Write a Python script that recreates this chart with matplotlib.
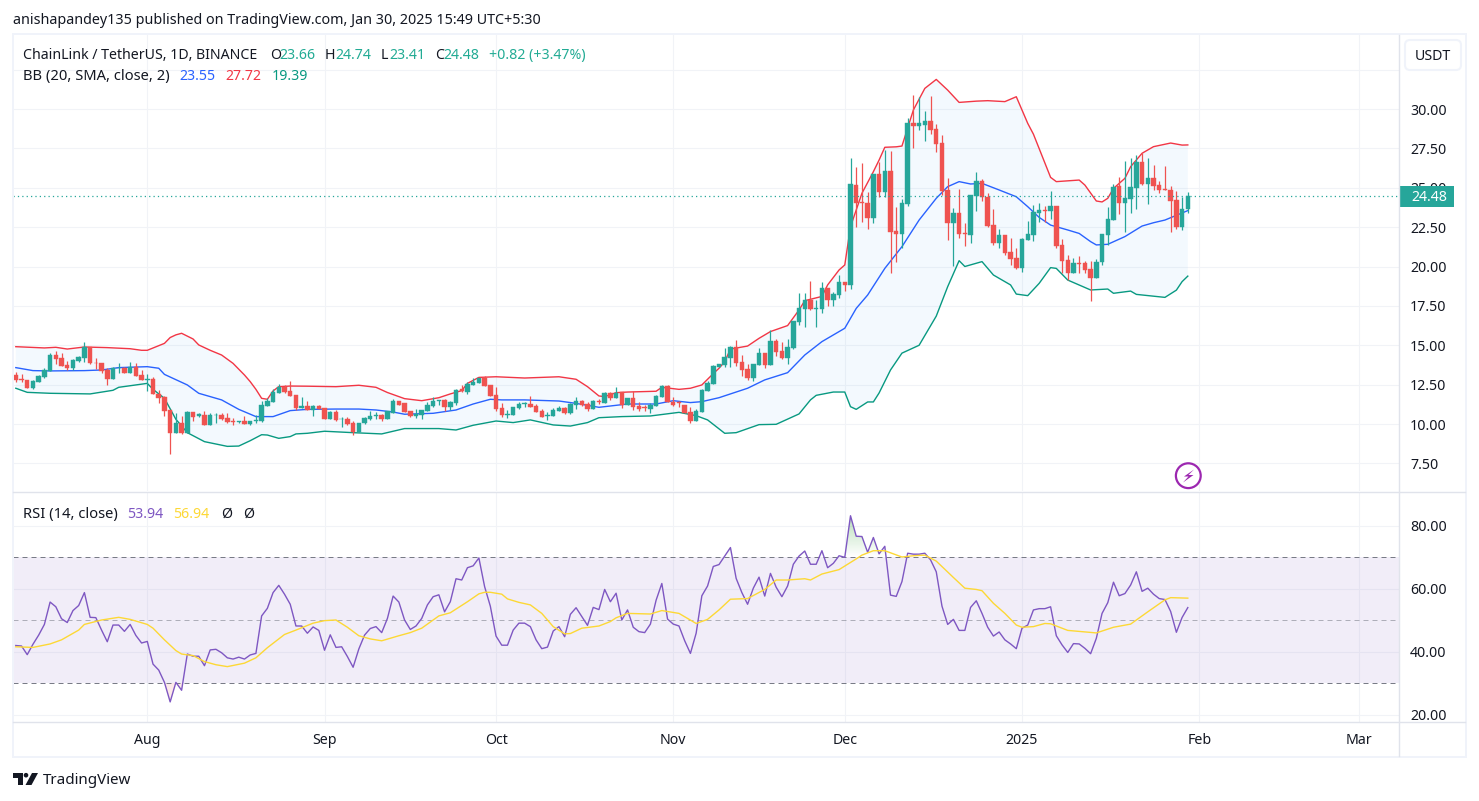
import numpy as np
import matplotlib
matplotlib.use('Agg')
import matplotlib.pyplot as plt
from matplotlib.colors import LinearSegmentedColormap
from matplotlib.patches import Rectangle, FancyBboxPatch, Circle, Polygon

plt.rcParams['font.family'] = ['Noto Sans', 'DejaVu Sans']

# candles, one per day from 23 days before Aug 1 up to Jan 30
opens = [13.11,12.84,12.80,12.31,12.69,13.01,13.39,14.38,14.17,13.75,
         13.56,14.02,14.19,14.87,13.90,13.90,13.43,12.86,13.54,13.58,
         13.24,13.60,13.11,12.80,12.84,11.89,11.72,10.89,9.45,10.04,
         9.45,10.74,10.53,10.55,9.96,10.55,10.55,10.38,10.19,10.13,
         10.19,10.00,10.21,10.19,11.14,11.40,11.99,12.37,12.10,11.82,
         11.04,11.14,10.89,11.14,10.99,10.32,10.78,10.30,10.32,10.04,
         9.49,10.04,10.34,10.51,10.57,10.32,10.72,11.46,11.31,10.81,
         10.53,10.57,10.83,11.17,11.46,11.50,11.08,11.31,12.20,12.05,
         12.50,12.63,12.94,12.48,11.84,11.00,10.57,10.59,11.00,11.27,
         11.27,11.14,10.83,10.53,10.53,10.85,11.02,10.70,11.23,11.46,
         11.29,10.95,11.46,11.31,11.97,11.63,12.01,11.21,11.63,11.17,
         11.06,10.95,11.17,11.72,12.41,11.42,11.38,11.21,10.76,10.19,
         10.78,12.12,12.56,13.64,13.77,14.19,14.87,13.94,13.50,12.94,
         13.77,14.51,13.75,15.27,14.66,14.21,14.81,16.50,17.30,17.87,
         17.32,17.30,18.64,17.87,18.21,19.02,18.82,25.17,24.09,24.01,
         23.08,25.87,24.73,26.06,22.23,22.09,23.97,29.09,28.94,28.98,
         29.24,28.71,27.82,24.84,22.78,23.38,22.13,22.02,24.50,25.43,
         24.41,22.63,21.49,22.00,20.92,20.52,19.88,21.68,22.00,23.42,
         23.59,23.53,23.84,21.37,20.41,19.61,20.22,20.22,19.82,19.29,
         20.27,22.00,22.95,25.11,24.05,24.31,25.00,26.64,25.24,25.62,
         25.17,24.92,24.86,24.22,22.50,23.66]
highs = [13.28,13.18,12.80,12.80,13.09,13.54,14.49,14.66,14.49,14.02,
         14.13,14.32,15.19,14.87,14.17,13.90,13.54,13.60,13.85,13.60,
         13.92,13.85,13.43,13.18,12.96,12.16,11.78,10.89,10.68,10.51,
         10.81,10.74,10.72,10.83,10.72,10.68,10.68,10.68,10.36,10.21,
         10.51,10.19,10.57,11.48,11.63,12.20,12.52,12.48,12.73,11.82,
         11.74,11.46,11.19,11.19,10.99,10.83,10.89,10.47,10.42,10.19,
         10.09,10.42,10.83,10.78,10.62,10.81,11.61,11.46,11.31,10.81,
         10.93,10.87,11.38,11.69,11.50,11.57,11.48,12.20,12.48,12.69,
         12.90,12.94,13.05,12.48,12.37,11.36,10.89,11.08,11.42,11.42,
         11.78,11.27,10.93,10.74,11.00,11.14,11.10,11.36,11.69,11.53,
         11.42,11.53,11.61,12.03,12.03,12.37,12.01,11.63,12.08,11.42,
         11.21,11.31,11.84,12.50,12.50,11.69,11.48,11.21,11.10,10.93,
         12.20,12.75,13.73,13.81,14.83,14.95,15.34,14.38,13.81,13.81,
         14.81,14.51,15.97,15.40,15.23,15.38,16.54,18.34,18.34,19.08,
         17.87,19.00,18.64,18.40,19.46,19.02,26.87,26.30,26.55,24.75,
         25.87,26.66,27.40,27.33,23.76,24.27,29.41,30.89,30.74,29.85,
         30.82,29.05,28.35,25.60,23.69,24.90,22.74,24.54,26.00,25.53,
         24.65,23.63,22.36,22.00,21.83,21.20,21.83,22.89,23.90,24.05,
         23.84,24.79,23.84,21.75,20.71,20.52,20.67,20.37,20.37,20.46,
         22.06,23.76,25.22,25.70,26.68,26.87,27.08,27.18,26.87,26.45,
         25.45,26.38,25.11,24.82,24.39,24.74]
lows = [12.69,12.67,12.31,12.25,12.67,12.94,13.39,13.81,13.71,13.43,
        13.43,13.96,13.94,13.83,13.47,13.26,12.48,12.86,13.26,13.22,
        13.24,13.07,12.80,12.12,11.89,11.31,10.51,8.10,9.41,9.37,
        9.41,10.21,10.42,9.96,9.96,10.09,10.26,10.04,9.94,10.09,
        9.98,9.94,10.09,10.13,11.14,11.40,11.95,11.95,11.78,10.89,
        11.00,10.89,10.53,10.93,10.32,10.30,10.21,9.83,9.94,9.32,
        9.49,10.00,10.26,10.32,10.21,10.32,10.72,11.21,10.78,10.47,
        10.40,10.34,10.83,11.10,11.21,10.83,10.89,11.21,12.05,11.89,
        12.46,12.58,12.44,11.80,10.85,10.47,10.36,10.59,10.95,11.10,
        11.08,10.74,10.42,10.26,10.49,10.81,10.66,10.66,10.98,11.17,
        10.81,10.95,11.27,11.31,11.53,11.63,11.04,11.21,10.89,10.85,
        10.85,10.68,11.17,11.72,11.38,11.14,11.10,10.68,10.09,10.19,
        10.78,12.08,12.56,13.59,13.64,13.64,13.68,13.05,12.80,12.73,
        13.77,13.58,13.75,14.32,14.13,13.81,14.74,16.29,16.14,17.24,
        16.18,17.03,17.52,17.50,17.98,18.47,18.57,22.53,22.85,22.40,
        22.78,24.43,24.43,19.57,20.31,21.16,23.84,27.55,28.67,27.97,
        28.41,27.29,24.54,21.68,20.05,21.79,21.30,21.51,23.52,24.18,
        22.53,21.37,21.15,20.73,20.07,19.84,19.67,21.68,21.64,22.83,
        22.85,23.02,21.20,19.57,19.14,19.57,19.57,19.61,17.81,19.29,
        20.10,21.37,22.95,23.33,22.20,23.42,23.63,25.17,23.97,24.86,
        24.69,24.88,22.21,22.40,22.32,23.41]
closes = [12.80,12.80,12.31,12.71,13.05,13.43,14.38,14.13,13.71,13.56,
          14.07,14.28,14.87,13.90,13.85,13.39,12.86,13.56,13.58,13.24,
          13.60,13.07,12.80,12.84,11.89,11.65,10.83,9.45,10.04,9.45,
          10.76,10.45,10.62,9.96,10.57,10.59,10.30,10.15,10.15,10.17,
          10.00,10.19,10.26,11.21,11.46,12.03,12.37,12.03,11.78,11.04,
          11.12,10.89,11.14,10.95,10.32,10.78,10.26,10.34,10.00,9.47,
          10.04,10.38,10.51,10.55,10.32,10.81,11.46,11.21,10.78,10.51,
          10.64,10.87,11.21,11.46,11.50,11.10,11.38,12.16,12.12,12.54,
          12.67,12.94,12.44,11.80,10.95,10.57,10.64,11.08,11.29,11.33,
          11.08,10.78,10.47,10.59,10.89,11.02,10.70,11.27,11.46,11.23,
          10.95,11.46,11.42,11.97,11.67,11.99,11.21,11.63,11.10,10.93,
          11.00,11.21,11.78,12.41,11.38,11.21,11.31,10.72,10.19,10.83,
          12.16,12.60,13.68,13.81,14.23,14.91,13.90,13.43,12.92,13.81,
          14.51,13.75,15.27,14.59,14.21,14.89,16.54,17.37,17.87,17.32,
          17.37,18.64,17.87,18.28,19.02,18.82,25.24,24.05,24.05,23.08,
          25.87,24.73,26.06,22.21,22.09,24.01,29.09,28.94,29.09,29.24,
          28.67,27.78,24.79,22.78,23.38,22.09,22.09,24.54,25.43,24.39,
          22.59,21.49,22.00,20.88,20.45,19.88,21.75,22.06,23.46,23.59,
          23.53,23.84,21.32,20.35,19.61,20.22,20.18,19.78,19.29,20.29,
          22.06,23.00,25.05,24.05,24.35,25.05,26.64,25.24,25.62,25.13,
          24.86,24.88,24.16,22.51,23.65,24.48]
first_day = -23

upper_days = [-23,-18,-16,-14,-11,-7,-3,-1,0,3,4,5,6,8,9,11,13,15,17,18,19,20,21,22,23,25,28,33,37,40,
              42,45,48,51,53,55,56,58,61,66,72,75,77,79,80,82,84,89,90,93,95,97,99,100,101,102,105,107,109,112,
              114,115,118,119,121,122,123,125,127,128,129,131,132,134,136,138,140,142,145,147,150,152,154,155,158,159,163,164,166,167,
              168,169,171,172,174,176,179,181,182]
upper = [14.91,14.83,14.87,14.76,14.89,14.85,14.78,14.68,14.68,15.12,15.49,15.66,15.76,15.40,15.02,14.68,14.38,13.85,13.11,12.69,12.20,11.63,11.57,12.10,12.37,12.41,12.40,12.37,12.46,12.33,
         12.00,11.61,11.48,11.67,11.91,12.12,12.58,12.96,13.00,12.92,13.00,12.84,12.37,11.78,11.74,11.99,12.03,12.08,12.33,12.20,12.27,12.48,13.20,13.54,13.96,14.76,14.95,15.44,15.87,16.25,
         17.24,17.83,18.10,18.83,19.78,20.10,22.53,24.65,26.02,26.76,27.57,27.60,27.65,29.94,31.31,31.88,31.20,30.42,30.50,30.53,30.47,30.78,29.09,28.40,25.66,25.39,25.49,25.17,24.16,24.10,
         24.33,24.96,25.60,26.34,27.19,27.61,27.84,27.71,27.72]
mid_days = [-23,-20,-17,-11,-8,-5,0,2,3,7,9,13,16,19,22,25,28,33,37,40,
            43,45,50,54,57,60,62,66,72,75,79,84,89,92,95,97,100,105,108,112,
            115,118,122,124,126,129,132,135,138,140,142,144,146,149,152,154,156,158,161,163,
            165,166,168,171,174,176,178,182]
mid = [13.58,13.39,13.37,13.39,13.43,13.58,13.64,13.54,13.15,12.48,11.95,11.53,10.93,10.47,10.47,10.85,10.93,10.95,10.95,10.89,
       10.76,10.62,10.68,10.89,11.27,11.57,11.53,11.53,11.46,11.31,11.06,11.27,11.27,11.48,11.36,11.42,11.67,12.27,12.80,13.26,
       14.38,15.23,16.08,17.34,18.19,19.88,21.26,22.95,24.33,25.07,25.39,25.24,25.28,24.86,24.43,23.80,23.12,22.63,22.32,22.10,
       21.58,21.37,21.41,21.90,22.57,22.78,22.95,23.55]
lower_days = [-23,-21,-17,-10,-6,-5,-2,0,1,3,5,7,10,14,16,18,20,21,23,25,26,28,31,36,
              41,45,51,54,57,61,64,67,71,74,77,79,83,88,93,96,98,101,103,107,110,114,116,117,120,122,123,124,126,127,128,130,132,135,138,140,142,143,146,148,151,152,154,156,158,159,161,165,168,169,172,173,178,180,181,182]
lower = [12.27,12.01,11.95,11.91,12.14,12.33,12.48,12.58,12.20,11.63,10.30,9.45,8.88,8.58,8.60,8.94,9.32,9.30,9.09,9.20,9.37,9.41,9.54,9.45,
         9.37,9.71,9.71,9.62,9.92,10.19,10.09,10.26,9.94,9.87,10.09,10.40,10.47,10.51,10.74,10.53,10.26,9.41,9.45,9.96,9.98,10.64,11.53,11.82,12.03,12.03,11.10,10.93,11.40,11.40,11.97,13.43,14.50,15.00,16.85,18.72,20.37,20.00,20.31,19.46,18.83,18.25,18.15,18.93,19.93,19.88,19.14,18.51,18.57,18.30,18.44,18.23,18.04,18.50,19.04,19.39]

rsi = [41.9,41.75,39.0,42.3,45.2,48.6,55.7,54.2,50.4,49.2,53.0,54.6,58.7,50.85,50.75,46.8,43.1,48.4,48.4,46.4,48.6,45.1,42.7,
       43.2,36.0,34.1,30.2,24.0,30.2,27.7,39.2,38.5,38.5,35.5,40.5,40.7,39.6,38.0,37.6,38.2,37.6,38.9,39.4,51.3,53.7,58.7,61.0,58.2,55.0,48.1,48.1,45.8,47.8,46.7,
       40.4,45.3,41.3,41.5,38.4,35.0,40.8,45.2,47.3,47.9,46.0,50.5,57.6,55.7,50.0,47.0,48.1,50.5,54.8,57.4,58.0,52.6,55.8,63.1,62.7,66.6,67.2,69.7,60.6,54.4,
       44.9,42.0,42.0,46.8,49.0,49.0,47.9,43.7,40.9,41.4,46.5,47.9,44.7,51.8,53.9,51.1,48.3,54.0,53.3,59.7,55.8,58.5,50.0,53.2,47.7,46.3,46.0,48.7,56.3,61.6,50.3,
       48.7,48.1,43.4,39.4,45.8,57.7,60.8,67.0,67.6,70.3,73.0,63.2,58.7,55.0,60.1,63.6,57.6,64.8,60.4,57.4,60.8,67.7,70.3,71.9,67.7,67.7,72.0,66.6,68.0,70.4,
       69.9,83.1,76.6,76.5,71.5,76.2,71.0,73.4,57.9,57.5,62.2,71.2,70.9,70.9,71.2,69.1,65.3,54.4,48.6,50.2,46.7,46.7,54.0,56.1,52.1,47.7,44.9,46.2,43.7,42.4,40.9,
       47.4,48.4,53.2,53.6,53.6,54.2,45.0,42.1,39.7,42.5,42.4,41.0,39.3,44.2,52.1,55.5,62.0,57.7,58.4,61.1,65.3,59.1,60.1,58.2,56.8,56.5,52.7,46.1,50.8,53.94]
rsi_ma_days = [-23,-20,-17,-15,-12,-11,-8,-5,-3,0,1,3,5,6,8,10,12,14,17,19,21,24,26,29,31,33,35,37,39,41,
               44,46,48,51,53,56,58,59,60,62,63,65,67,69,71,73,74,76,79,81,82,84,88,90,93,96,98,100,102,105,
               108,110,112,115,116,118,121,124,125,127,129,132,134,136,138,141,143,145,146,148,150,152,153,155,157,158,161,166,169,172,175,178,179,182]
rsi_ma = [41.5,41.3,42.4,43.7,46.8,48.6,50.0,50.85,50.2,48.6,47.4,43.7,40.3,39.2,38.7,36.8,35.8,35.2,36.3,38.0,41.2,45.4,46.8,49.0,49.8,50.0,47.7,45.0,44.0,43.4,
          45.0,46.0,47.4,51.3,52.3,55.8,58.3,58.8,58.8,58.2,56.7,55.6,54.8,52.1,47.9,45.6,45.7,47.4,48.1,49.5,50.7,52.1,51.9,53.0,52.1,48.9,50.2,53.2,56.6,56.8,
          59.7,62.7,62.7,63.1,62.7,64.6,66.0,69.4,70.6,72.0,72.0,70.0,70.4,70.6,68.7,63.5,60.1,59.7,59.3,55.3,52.1,48.4,47.7,47.9,48.9,48.8,46.7,45.9,47.7,48.7,52.6,56.4,57.1,56.94]

price_ticks = [7.5,10,12.5,15,17.5,20,22.5,25,27.5,30,32.5]
rsi_ticks = [20,40,60,80]
month_days = [0,31,61,92,122,153,184,212]
month_labels = ['Aug','Sep','Oct','Nov','Dec','2025','Feb','Mar']
last_close = 24.48

UP = '#26a69a'
DOWN = '#ef5350'
GRID = '#f1f3f7'
TXT = '#131722'
W, H = 1479, 801
XLIM = (-23.49, 218.94)
days = first_day + np.arange(len(closes))
opens, highs, lows, closes = map(np.array, (opens, highs, lows, closes))
rsi = np.array(rsi)

fig = plt.figure(figsize=(W / 100, H / 100), dpi=100, facecolor='white')
ax1 = fig.add_axes([13 / W, 1 - 491 / H, 1386 / W, 456 / H])
ax2 = fig.add_axes([13 / W, 1 - 722 / H, 1386 / W, 229 / H])

# price pane
ax1.fill(np.r_[upper_days, lower_days[::-1]], np.r_[upper, lower[::-1]], color='#2196f3', alpha=0.05, lw=0, zorder=1)
ax1.plot(upper_days, upper, color='#f23645', lw=1.0, zorder=2)
ax1.plot(mid_days, mid, color='#2962ff', lw=1.0, zorder=2)
ax1.plot(lower_days, lower, color='#089981', lw=1.0, zorder=2)

colors = np.where(closes >= opens, UP, DOWN)
ax1.vlines(days, lows, highs, colors=colors, lw=0.9, zorder=3)
ax1.bar(days, closes - opens, bottom=opens, width=0.78, color=colors, edgecolor=colors, lw=0.3, zorder=4)
ax1.axhline(last_close, color=UP, lw=0.9, ls=(0, (1, 2.5)), zorder=5)

ax1.set_xlim(*XLIM)
ax1.set_ylim(5.746, 34.70)
ax1.set_yticks(price_ticks)
ax1.set_yticklabels(['%.2f' % t if t < 32 else '' for t in price_ticks])
ax1.set_xticks(month_days)
ax1.tick_params(axis='x', length=0, labelbottom=False)

# rsi pane
ax2.axhspan(30, 70, color='#7e57c2', alpha=0.1, lw=0, zorder=1)
over = ax2.fill_between(days, 70, rsi, where=rsi >= 70, interpolate=True, color='none', lw=0, zorder=2)
ax2.fill_between(days, 30, rsi, where=rsi <= 30, interpolate=True, color='#ef5350', alpha=0.12, lw=0, zorder=2)

# overbought area fades out towards the 70 line
fade = LinearSegmentedColormap.from_list('fade', [(0.3, 0.69, 0.31, 0.4), (0.3, 0.69, 0.31, 0.0)])
grad = ax2.imshow(np.linspace(0, 1, 64).reshape(-1, 1), cmap=fade, aspect='auto', origin='upper',
                  extent=(days[0], days[-1], 70, max(rsi)), zorder=2)
grad.set_clip_path(over.get_paths()[0], transform=ax2.transData) if len(over.get_paths()) == 1 else None
if len(over.get_paths()) > 1:
    from matplotlib.path import Path
    grad.set_clip_path(Path.make_compound_path(*over.get_paths()), transform=ax2.transData)

ax2.axhline(70, color='#787b86', lw=0.72, ls=(0, (5, 4)), zorder=3)
ax2.axhline(30, color='#787b86', lw=0.72, ls=(0, (5, 4)), zorder=3)
ax2.axhline(50, color='#787b86', lw=0.72, alpha=0.55, ls=(0, (5, 4)), zorder=3)
ax2.plot(days, rsi, color='#7e57c2', lw=1.0, zorder=4)
ax2.plot(rsi_ma_days, rsi_ma, color='#fdd835', lw=1.0, zorder=5)
ax2.set_xlim(*XLIM)
ax2.set_ylim(17.62, 90.32)
ax2.set_yticks(rsi_ticks)
ax2.set_yticklabels(['%.2f' % t for t in rsi_ticks])
ax2.set_xticks(month_days)
ax2.set_xticklabels(month_labels)
ax2.get_xticklabels()[month_labels.index('2025')].set_fontweight('bold')

for ax in (ax1, ax2):
    ax.yaxis.tick_right()
    ax.grid(True, color=GRID, lw=0.75)
    ax.set_axisbelow(True)
    ax.tick_params(axis='y', length=0, pad=8, labelsize=10.2, labelcolor=TXT)
    for s in ax.spines.values():
        s.set_visible(False)
ax2.tick_params(axis='x', length=0, pad=8, labelsize=10.2, labelcolor=TXT)

# chrome and labels in pixel coordinates
ov = fig.add_axes([0, 0, 1, 1], zorder=10)
ov.set_xlim(0, W)
ov.set_ylim(H, 0)
ov.axis('off')
ov.patch.set_alpha(0)

def label(x, y, s, color=TXT, size=10.2, **kw):
    kw.setdefault('ha', 'left')
    ov.text(x, y, s, color=color, fontsize=size, va='center', **kw)

# frame
for x0, y0, w, h in [(12, 33, 1455, 2), (12, 756, 1455, 2), (12, 33, 2, 725), (1465, 33, 2, 725)]:
    ov.add_patch(Rectangle((x0, y0), w, h, color='#f0f3fa', lw=0))
ov.plot([1399, 1399], [35, 756], color='#e0e3eb', lw=1)
ov.plot([13, 1465], [492, 492], color='#e0e3eb', lw=1)
ov.plot([13, 1465], [722, 722], color='#e0e3eb', lw=1)

label(13, 21, 'anishapandey135 published on TradingView.com, Jan 30, 2025 15:49 UTC+5:30', size=10.3)

label(23, 55.5, 'ChainLink / TetherUS, 1D, BINANCE')
for x, s in [(270, 'O'), (325, 'H'), (381, 'L'), (435, 'C')]:
    label(x, 55.5, s)
for x, s in [(279, '23.66'), (335, '24.74'), (389, '23.41'), (443.5, '24.48'), (489, '+0.82 (+3.47%)')]:
    label(x, 55.5, s, color='#22ab94')
label(23, 76.5, 'BB (20, SMA, close, 2)', size=10.6)
label(179, 76.5, '23.55', color='#2962ff')
label(225, 76.5, '27.72', color='#f23645')
label(271.5, 76.5, '19.39', color='#089981')
label(23, 514.5, 'RSI (14, close)', size=10.6)
label(127, 514.5, '53.94', color='#7e57c2')
label(173.5, 514.5, '56.94', color='#fdd835')
label(221, 514.5, '\u00d8')
label(243, 514.5, '\u00d8')

# currency button
ov.add_patch(FancyBboxPatch((1405, 40), 56, 30, boxstyle='round,pad=0,rounding_size=5', fc='white', ec='#f0f3fa', lw=1.5))
label(1433, 56, 'USDT', ha='center')

# last price tag
ov.add_patch(Rectangle((1400, 186), 54, 21, color=UP, lw=0))
label(1429, 197.5, '24.48', color='white', ha='center', fontweight='bold')

# bolt icon
ov.add_patch(Circle((1188.3, 475.7), 12.4, fc='white', ec='#9c27b0', lw=1.6))
ov.add_patch(Polygon([(1194, 469.5), (1184, 476.5), (1188.5, 476.5), (1183, 482.5), (1193.5, 475), (1188.5, 475)],
                     closed=True, fc='#9c27b0', lw=0))

# logo
ov.add_patch(Polygon([(13, 773), (22.5, 773), (22.5, 785), (18, 785), (18, 777.5), (13, 777.5)], closed=True, fc=TXT, lw=0))
ov.add_patch(Circle((26, 775.2), 2.3, fc=TXT, lw=0))
ov.add_patch(Polygon([(32, 773), (38, 773), (31.5, 785), (25.5, 785)], closed=True, fc=TXT, lw=0))
label(43, 780.5, 'TradingView', size=10.9)

fig.savefig('out.png', dpi=100)
